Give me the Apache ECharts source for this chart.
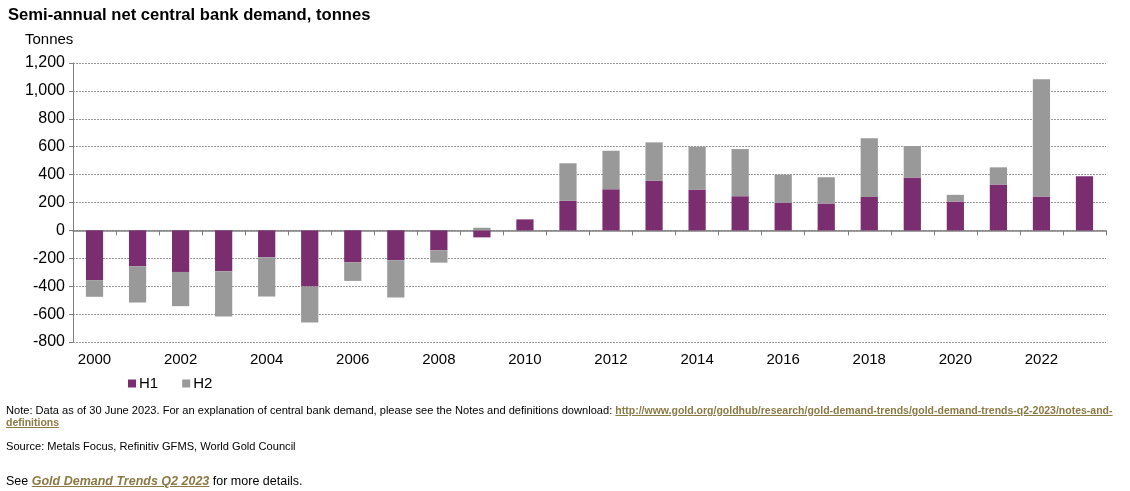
<!DOCTYPE html>
<html><head><meta charset="utf-8">
<script src="https://cdn.jsdelivr.net/npm/echarts@6/dist/echarts.min.js"></script>
<style>
body{margin:0;background:#fff;font-family:"Liberation Sans",Arial,sans-serif;}
#c{position:absolute;left:0;top:0;width:1130px;height:491px;}
.t{position:absolute;color:#000;}
a{color:#8c7a45;}
</style></head><body>
<div id="c"></div>
<div class="t" style="left:8px;top:5px;font-size:16.6px;font-weight:bold;">Semi-annual net central bank demand, tonnes</div>
<div class="t" style="left:6px;top:404px;font-size:11.1px;line-height:12px;width:1115px;">Note: Data as of 30 June 2023. For an explanation of central bank demand, please see the Notes and definitions download: <a href="#" style="font-weight:bold;font-size:10.5px;">http://www.gold.org/goldhub/research/gold-demand-trends/gold-demand-trends-q2-2023/notes-and-definitions</a></div>
<div class="t" style="left:6px;top:440px;font-size:11.1px;">Source: Metals Focus, Refinitiv GFMS, World Gold Council</div>
<div class="t" style="left:6px;top:474px;font-size:12.5px;">See <a href="#" style="font-weight:bold;font-style:italic;">Gold Demand Trends Q2 2023</a> for more details.</div>
<script>
const years = ['2000','2001','2002','2003','2004','2005','2006','2007','2008','2009','2010','2011','2012','2013','2014','2015','2016','2017','2018','2019','2020','2021','2022','2023'];
const h1 = [-357,-257,-298,-293,-193,-402,-229,-214,-143,-50,79,212,295,355,293,245,198,193,240,379,207,329,243,388];
const h2 = [-119,-260,-245,-324,-281,-258,-133,-267,-88,19,0,269,276,276,307,338,202,188,420,226,48,123,840,null];
const seriesNames = ['H1','H2'];
const colors = ['#7b2e6f','#999999'];

const chart = echarts.init(document.getElementById('c'));
const font = {fontFamily:'"Liberation Sans", Arial, sans-serif', color:'#000', fontSize:15};
chart.setOption({
  animation:false,
  grid:{left:73,right:24,top:63,bottom:149},
  legend:{left:123,top:371,itemWidth:8,itemHeight:8,itemGap:24,icon:'rect',
    textStyle:Object.assign({},font,{fontSize:15,padding:[0,0,0,-2]}),data:seriesNames},
  graphic:[{type:'text',left:25,top:32,style:{text:'Tonnes',font:'15px "Liberation Sans", Arial, sans-serif',fill:'#000'}}],
  xAxis:[
    {type:'category',data:years,boundaryGap:true,
     axisLine:{onZero:true,lineStyle:{color:'#808080',width:1.5}},
     axisTick:{show:true,inside:false,length:5,interval:0,lineStyle:{color:'#808080'}},
     axisLabel:{show:false}},
    {type:'category',data:years,position:'bottom',boundaryGap:true,
     axisLine:{show:false,onZero:false},axisTick:{show:false},
     axisLabel:Object.assign({},font,{interval:1,margin:10})}
  ],
  yAxis:{type:'value',min:-800,max:1200,interval:200,
    axisLine:{show:true,lineStyle:{color:'#808080'}},
    axisTick:{show:true,length:4,lineStyle:{color:'#808080'}},
    splitLine:{show:true,lineStyle:{color:'#999',type:[2,1],width:1}},
    axisLabel:Object.assign({},font,{fontSize:16,margin:8,formatter:v=>v.toLocaleString('en-US')})},
  series:[
    {name:seriesNames[0],type:'bar',stack:'a',data:h1,barWidth:'40%',itemStyle:{color:colors[0]},xAxisIndex:0},
    {name:seriesNames[1],type:'bar',stack:'a',data:h2,barWidth:'40%',itemStyle:{color:colors[1]},xAxisIndex:0}
  ]
});
</script>
</body></html>
